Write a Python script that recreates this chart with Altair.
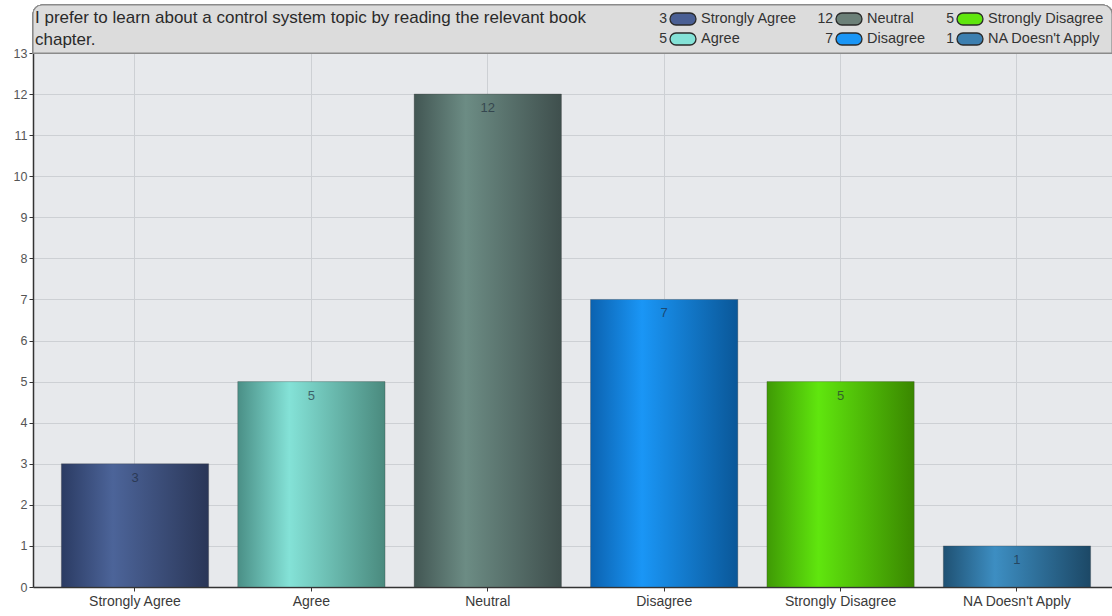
import altair as alt
import pandas as pd

# Survey responses
categories = ["Strongly Agree", "Agree", "Neutral", "Disagree", "Strongly Disagree", "NA Doesn't Apply"]
counts = [3, 5, 12, 7, 5, 1]

# Cylinder-style shading per category: (edge, highlight, far edge)
shades = [
    ("#2b3b63", "#4c6499", "#2a3657"),
    ("#4a8f86", "#84e2d7", "#4a8a7e"),
    ("#425653", "#6c8c84", "#3f4f4d"),
    ("#0b62b0", "#1a96f6", "#0a5798"),
    ("#3f9a05", "#60e60e", "#3a8700"),
    ("#1f5173", "#3d8ec2", "#1c4866"),
]
legend_swatch = ["#4a5f94", "#84e2d7", "#6c8078", "#1a96f6", "#60e60e", "#3d7fb0"]

title_lines = ["I prefer to learn about a control system topic by reading the relevant book", "chapter."]

df = pd.DataFrame({"category": categories, "count": counts})

W, H = 1079, 534
FONT = "Liberation Sans"

x_scale = alt.Scale(domain=categories, paddingInner=0.165, paddingOuter=0.141, align=0.57)
y_scale = alt.Scale(domain=[0, 13], nice=False)

x_enc = alt.X("category:N", scale=x_scale, sort=categories,
              axis=alt.Axis(title=None, labelAngle=0, labelFontSize=14, labelColor="#3a3a3a",
                            labelFont=FONT, domainColor="#333", domainWidth=1.5,
                            tickColor="#333", tickSize=4, grid=True, gridColor="#cdd0d4",
                            labelPadding=3))
y_enc = alt.Y("count:Q", scale=y_scale,
              axis=alt.Axis(title=None, values=list(range(0, 14)), labelFontSize=12.5,
                            labelColor="#555", labelFont=FONT, domainColor="#333",
                            domainWidth=1.5, tickColor="#333", tickSize=4,
                            gridColor="#cdd0d4", labelPadding=2))

base = alt.Chart(df)

layers = []
for cat, (c0, c1, c2) in zip(categories, shades):
    grad = alt.Gradient(gradient="linear", x1=0, x2=1, y1=0, y2=0,
                        stops=[alt.GradientStop(offset=0, color=c0),
                               alt.GradientStop(offset=0.35, color=c1),
                               alt.GradientStop(offset=1, color=c2)])
    layers.append(
        base.transform_filter(alt.datum.category == cat)
        .mark_bar(color=grad, stroke="#3a3a3a", strokeWidth=0.6, strokeOpacity=0.5)
        .encode(x=x_enc, y=y_enc)
    )

values = base.mark_text(baseline="top", dy=8, fontSize=13, font=FONT,
                        color="#1e2a3a", opacity=0.65).encode(
    x=x_enc, y=y_enc, text="count:Q")

# Header box above the plot
header = alt.Chart(df).mark_rect(
    fill="#dcdcdc", stroke="#8a8a8a", strokeWidth=1.2,
    cornerRadiusTopLeft=9, cornerRadiusTopRight=9).encode(
    x=alt.value(0), x2=alt.value(W), y=alt.value(-48), y2=alt.value(0))

title_df = pd.DataFrame({"line": title_lines, "row": list(range(len(title_lines)))})
title_text = alt.Chart(title_df).transform_calculate(
    py="-35 + datum.row * 22"
).mark_text(
    align="left", baseline="middle", fontSize=17, font=FONT, color="#2a2a2a").encode(
    x=alt.value(2), y=alt.Y("py:Q", scale=None, axis=None), text="line:N")

# Legend: three columns, two rows
leg_df = pd.DataFrame({
    "category": categories,
    "count": counts,
    "col": [0, 0, 1, 1, 2, 2],
    "row": [0, 1, 0, 1, 0, 1],
    "swatch": legend_swatch,
})
leg = alt.Chart(leg_df).transform_calculate(
    px="[637, 803, 924][datum.col]",
    py="-34 + datum.row * 20",
).transform_calculate(
    px_num="datum.px - 3",
    px_sw2="datum.px + 26",
    px_lab="datum.px + 31",
    py_top="datum.py - 6",
    py_bot="datum.py + 6",
)
leg_count = leg.mark_text(align="right", baseline="middle", fontSize=14, font=FONT,
                          color="#333").encode(
    x=alt.X("px_num:Q", scale=None, axis=None), y=alt.Y("py:Q", scale=None, axis=None),
    text="count:Q")
leg_swatch = leg.mark_rect(cornerRadius=6, stroke="#2a2a2a", strokeWidth=1.3).encode(
    x=alt.X("px:Q", scale=None, axis=None), x2="px_sw2:Q",
    y=alt.Y("py_top:Q", scale=None, axis=None), y2="py_bot:Q",
    color=alt.Color("swatch:N", scale=None))
leg_label = leg.mark_text(align="left", baseline="middle", fontSize=14.5, font=FONT,
                          color="#333").encode(
    x=alt.X("px_lab:Q", scale=None, axis=None), y=alt.Y("py:Q", scale=None, axis=None),
    text="category:N")

chart = alt.layer(*layers, values, header, title_text, leg_count, leg_swatch, leg_label).properties(
    width=W, height=H,
    autosize=alt.AutoSizeParams(type="none"),
    padding={"left": 33, "top": 53, "right": 0, "bottom": 29},
    background="white",
).configure_view(fill="#e7e9ec", stroke=None)

chart.save("out.html", embed_options={"renderer": "svg", "actions": False})
